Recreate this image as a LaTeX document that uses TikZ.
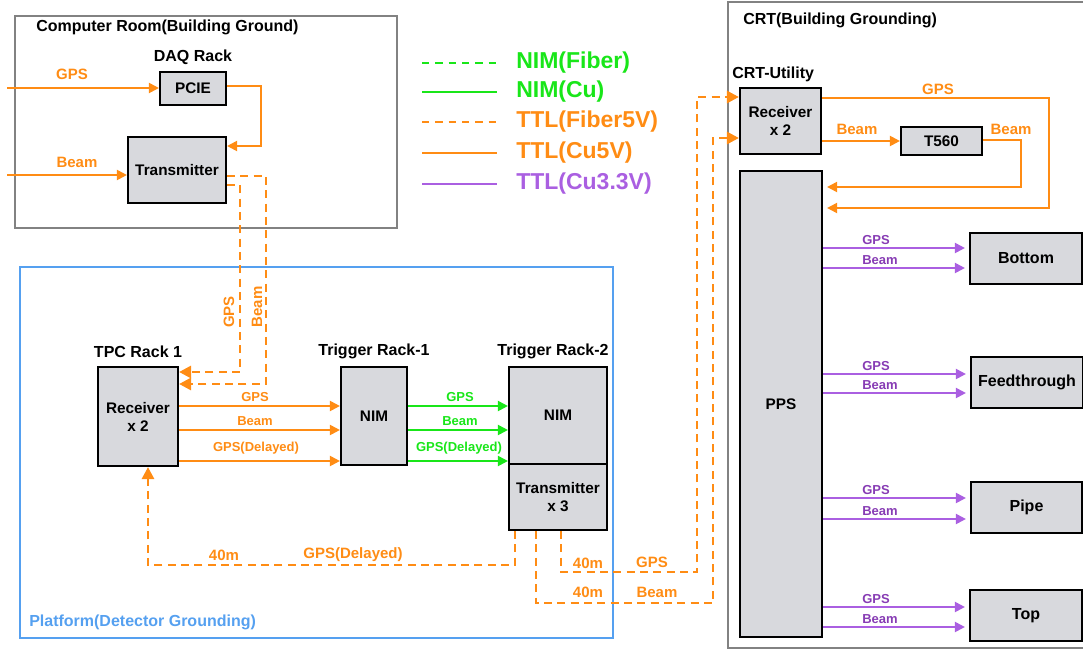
\documentclass[tikz,border=0pt]{standalone}
\usepackage{fontspec}
\setmainfont{Liberation Sans}
\usetikzlibrary{arrows.meta}
\definecolor{org}{RGB}{255,140,20}
\definecolor{grn}{RGB}{25,230,25}
\definecolor{pur}{RGB}{170,95,225}
\definecolor{purlbl}{RGB}{135,60,180}
\definecolor{plat}{RGB}{85,160,240}
\definecolor{framegray}{RGB}{130,130,130}
\definecolor{boxfill}{RGB}{216,217,221}
\tikzset{
 blk/.style={draw=black, fill=boxfill, line width=1.6pt, inner sep=0pt, align=center, font=\bfseries\fontsize{11.5}{13.5}\selectfont},
 bigblk/.style={blk, font=\bfseries\fontsize{12}{14}\selectfont},
 sz/.style 2 args={minimum width={#1*0.75pt}, minimum height={#2*0.75pt}},
 grp/.style={draw=framegray, line width=1.5pt},
 hdr/.style={font=\bfseries\fontsize{12}{14}\selectfont, inner sep=0pt},
 olbl/.style={text=org, font=\bfseries\fontsize{11.25}{13}\selectfont, inner sep=0pt},
 slbl/.style={text=org, font=\bfseries\fontsize{9.75}{11}\selectfont, inner sep=0pt},
 glbl/.style={text=grn, font=\bfseries\fontsize{9.75}{11}\selectfont, inner sep=0pt},
 plbl/.style={text=purlbl, font=\bfseries\fontsize{9.75}{11}\selectfont, inner sep=0pt, anchor=west},
 leg/.style={font=\bfseries\fontsize{17.25}{20}\selectfont, inner sep=0pt, anchor=west},
 ocu/.style={draw=org, line width=1.5pt},
 ofib/.style={draw=org, line width=2.1pt, dash pattern=on 6pt off 4pt},
 gcu/.style={draw=grn, line width=1.5pt},
 pcu/.style={draw=pur, line width=1.5pt},
 legdash/.style={line width=2.1pt, dash pattern=on 5.5pt off 4.5pt},
 arr/.style={-{Triangle[length=7.5pt,width=7.5pt]}},
 bigarr/.style={-{Triangle[length=9pt,width=9pt]}},
}
\begin{document}
\begin{tikzpicture}[x=0.75pt,y=-0.75pt]
\useasboundingbox (0,0) rectangle (1083,650);

% group frames
\draw[grp] (15,16) rectangle (397,228);
\draw[draw=plat, line width=1.5pt] (20,267) rectangle (613,638);
\draw[grp] (728,1.5) rectangle (1100,648);

\node[hdr, anchor=west] (tcomp) at (36,27) {Computer Room(Building Ground)};
\node[hdr, anchor=west] (tcrt) at (743,20) {CRT(Building Grounding)};
\node[hdr, anchor=west, text=plat] (tplat) at (29,622) {Platform(Detector Grounding)};
\node[hdr] (tdaq) at (193,57) {DAQ Rack};
\node[hdr] (ttpc) at (138,352) {TPC Rack 1};
\node[hdr] (ttr1) at (374,351) {Trigger Rack-1};
\node[hdr] (ttr2) at (553,351) {Trigger Rack-2};
\node[hdr, anchor=west] (tutil) at (732,74) {CRT-Utility};

% blocks
\node[blk, sz={66}{33}] (pcie) at (193,88.5) {PCIE};
\node[blk, sz={98}{66}] (tx) at (177,170) {Transmitter};
\node[blk, sz={80}{99}] (rx1) at (138,416.5) {Receiver\\x 2};
\node[blk, sz={66}{98}] (nim1) at (374,416) {NIM};
\node[blk, sz={98}{97}] (nim2) at (558,415.5) {NIM};
\node[blk, sz={98}{66}] (tx3) at (558,497) {Transmitter\\x 3};
\node[blk, sz={81}{66}] (crx) at (780.5,121) {Receiver\\x 2};
\node[blk, sz={81}{28}] (t560) at (941.5,141) {T560};
\node[blk, sz={82}{466}] (pps) at (781,404) {PPS};
\node[bigblk, sz={112}{51}] (bottom) at (1026,258.5) {Bottom};
\node[bigblk, sz={112}{51}] (feed) at (1027,382.5) {Feedthrough};
\node[bigblk, sz={111}{51}] (pipe) at (1026.5,507.5) {Pipe};
\node[bigblk, sz={112}{51}] (top) at (1026,615.5) {Top};

% computer room
\coordinate (gpsin) at (7,88);
\coordinate (beamin) at (7,175);
\draw[ocu,arr] (gpsin) -- (pcie.west |- gpsin);
\draw[ocu,arr] (beamin) -- (tx.west |- beamin);
\node[olbl] (lgpsin) at (72,74) {GPS};
\node[olbl] (lbeamin) at (77,162) {Beam};
\draw[ocu,arr] (pcie.east |- 0,86) -| (261,146) -- (tx.east |- 0,146);

\draw[ofib,bigarr] (tx.east |- 0,185) -| (240,372) -- (rx1.east |- 0,372);
\draw[ofib,bigarr] (tx.east |- 0,176) -| (266,384) -- (rx1.east |- 0,384);
\node[olbl, rotate=90] (lvgps) at (229,312) {GPS};
\node[olbl, rotate=90] (lvbeam) at (257,307) {Beam};

% TPC -> trigger rack 1
\draw[ocu,arr] (rx1.east |- 0,406) -- (nim1.west |- 0,406);
\draw[ocu,arr] (rx1.east |- 0,430) -- (nim1.west |- 0,430);
\draw[ocu,arr] (rx1.east |- 0,461) -- (nim1.west |- 0,461);
\node[slbl] (l1) at (255,397) {GPS};
\node[slbl] (l2) at (255,421) {Beam};
\node[slbl] (l3) at (256,448) {GPS(Delayed)};

% trigger rack 1 -> 2
\draw[gcu,arr] (nim1.east |- 0,406) -- (nim2.west |- 0,406);
\draw[gcu,arr] (nim1.east |- 0,430) -- (nim2.west |- 0,430);
\draw[gcu,arr] (nim1.east |- 0,461) -- (nim2.west |- 0,461);
\node[glbl] (g1) at (460,397) {GPS};
\node[glbl] (g2) at (460,421) {Beam};
\node[glbl] (g3) at (459,448) {GPS(Delayed)};

% returns from transmitter x3
\draw[ofib,bigarr] (tx3.south -| 515,0) -- (515,565) -| (rx1.south -| 148,0);
\node[olbl] (r1) at (224,555) {40m};
\node[olbl] (r2) at (353,555) {GPS(Delayed)};
\draw[ofib,bigarr] (tx3.south -| 561,0) -- (561,572) -| (697,97) -- (crx.west |- 0,97);
\node[olbl] (r3) at (588,563) {40m};
\node[olbl] (r4) at (652,562) {GPS};
\draw[ofib,bigarr] (tx3.south -| 536,0) -- (536,603) -| (713,138) -- (crx.west |- 0,138);
\node[olbl] (r5) at (588,592) {40m};
\node[olbl] (r6) at (657,592) {Beam};

% CRT utility
\draw[ocu,arr,shorten >=3pt] (crx.east |- 0,98) -| (1049,208) -- (pps.east |- 0,208);
\draw[ocu,arr] (crx.east |- 0,141) -- (t560.west |- 0,141);
\draw[ocu,arr,shorten >=3pt] (t560.east |- 0,140) -| (1021,187) -- (pps.east |- 0,187);
\node[olbl] (c1) at (938,89) {GPS};
\node[olbl] (c2) at (857,129) {Beam};
\node[olbl] (c3) at (1011,129) {Beam};

% PPS outputs
\foreach \n/\a/\b in {bottom/248/268, feed/374/393, pipe/498/519, top/607/627}{
  \draw[pcu,arr,shorten >=3pt] (pps.east |- 0,\a) -- (\n.west |- 0,\a);
  \draw[pcu,arr,shorten >=3pt] (pps.east |- 0,\b) -- (\n.west |- 0,\b);
  \node[plbl] (pg\n) at (862,\a-8) {GPS};
  \node[plbl] (pb\n) at (862,\b-8) {Beam};
}

% legend
\draw[grn, legdash] (422,63) -- (497,63);
\node[leg, text=grn] (leg1) at (516,63) {NIM(Fiber)};
\draw[grn, line width=1.9pt] (422,92) -- (497,92);
\node[leg, text=grn] (leg2) at (516,92) {NIM(Cu)};
\draw[org, legdash] (422,122) -- (497,122);
\node[leg, text=org] (leg3) at (516,122) {TTL(Fiber5V)};
\draw[org, line width=1.9pt] (422,153) -- (497,153);
\node[leg, text=org] (leg4) at (516,153) {TTL(Cu5V)};
\draw[pur, line width=1.9pt] (422,184) -- (497,184);
\node[leg, text=pur] (leg5) at (516,184) {TTL(Cu3.3V)};
\end{tikzpicture}
\end{document}
